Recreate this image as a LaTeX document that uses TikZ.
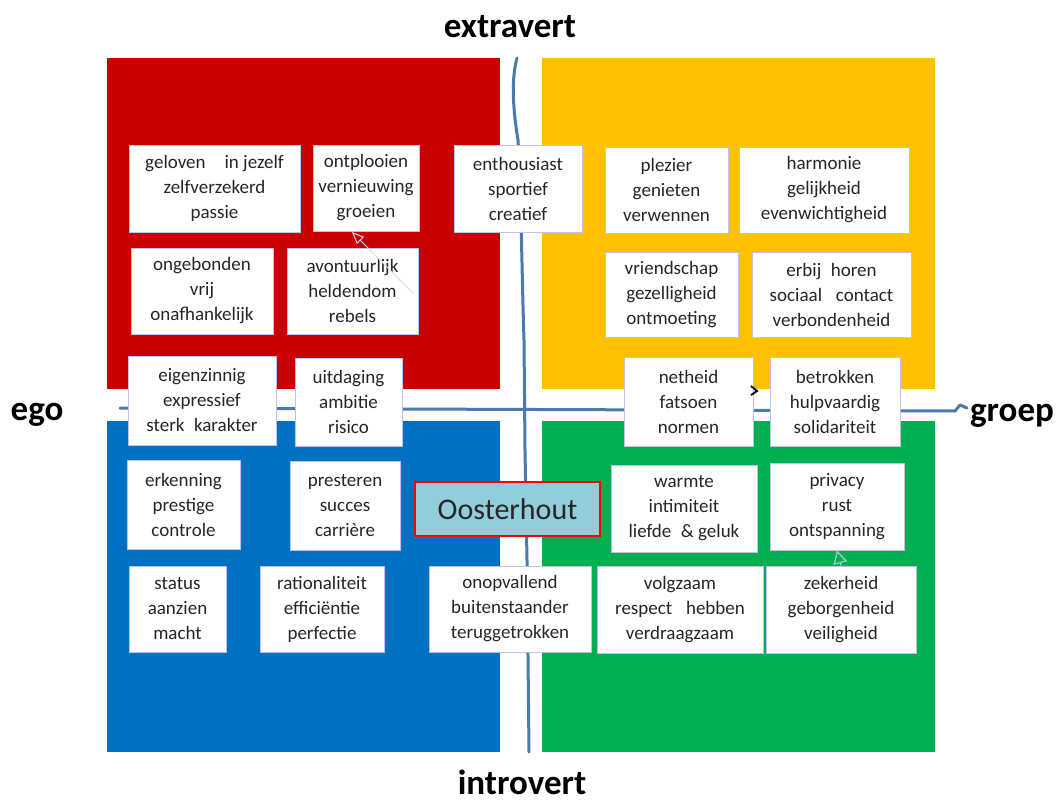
\documentclass[tikz,border=0pt]{standalone}
\usepackage{fontspec}
\setmainfont{Carlito}
\usetikzlibrary{arrows.meta}
\definecolor{qred}{HTML}{C80000}
\definecolor{qyellow}{HTML}{FFC000}
\definecolor{qblue}{HTML}{0070C0}
\definecolor{qgreen}{HTML}{00B050}
\definecolor{axisblue}{HTML}{4A7AAE}
\definecolor{boxline}{HTML}{C0C0F0}
\definecolor{txt}{HTML}{262626}
\definecolor{oostfill}{HTML}{92CDDC}
\definecolor{arrowlav}{HTML}{D8D8F8}
\definecolor{arrowlb}{HTML}{A8C8E0}
\tikzset{
  qb/.style={draw=boxline, line width=1pt, fill=white, inner sep=0pt,
    align=center, text=txt, font=\fontsize{19}{25}\selectfont},
  axisline/.style={draw=axisblue, line width=3pt, line cap=round, line join=round},
  titletext/.style={font=\fontsize{35}{40}\selectfont\bfseries, text=black, inner sep=0pt, anchor=base},
}
\newcommand\qbox[6]{\node[qb, minimum width={#4-#2}, minimum height={#5-#3}] (#1) at ({(#2+#4)/2},{(#3+#5)/2}) {#6};}
\begin{document}
\begin{tikzpicture}[x=1pt,y=-1pt]
\useasboundingbox (0,0) rectangle (1058,803);
% quadrants
\fill[qred] (107,58) rectangle (500,389);
\fill[qyellow] (542,58) rectangle (935,389);
\fill[qblue] (107,421) rectangle (500,752);
\fill[qgreen] (542,421) rectangle (935,752);
% axes
\draw[axisline] (517,58) .. controls (511,80) and (513,110) .. (518,140)
  .. controls (521,190) and (522,280) .. (524,340)
  -- (525,450) -- (527,560) -- (529,752);
\draw[axisline] (120,408) -- (955,411) -- (960,405) -- (967,408);
% titles
\node[titletext] (extra) at (510,37) {extravert};
\node[titletext] (intro) at (522,794) {introvert};
\node[titletext] (ego) at (37,420) {ego};
\node[titletext] (groep) at (1012,421) {groep};
% boxes
\qbox{geloven}{129}{145}{300}{232}{geloven\quad in jezelf\\zelfverzekerd\\passie}
\qbox{ontplooien}{313}{145}{419}{231}{ontplooien\\vernieuwing\\groeien}
\qbox{enthousiast}{454}{145}{582}{232}{enthousiast\\sportief\\creatief}
\qbox{plezier}{605}{147}{728}{233}{plezier\\genieten\\verwennen}
\qbox{harmonie}{739}{147}{909}{233}{harmonie\\gelijkheid\\evenwichtigheid}
\qbox{ongebonden}{131}{248}{273}{334}{ongebonden\\vrij\\onafhankelijk}
\qbox{avontuurlijk}{287}{248}{418}{334}{avontuurlijk\\heldendom\\rebels}
\qbox{vriendschap}{605}{252}{738}{337}{vriendschap\\gezelligheid\\ontmoeting}
\qbox{erbij}{752}{252}{911}{337}{erbij\enspace horen\\sociaal\enspace\ contact\\verbondenheid}
\qbox{eigenzinnig}{128}{356}{276}{445}{eigenzinnig\\expressief\\sterk\enspace karakter}
\qbox{uitdaging}{295}{358}{402}{446}{uitdaging\\ambitie\\risico}
\qbox{netheid}{624}{357}{753}{446}{netheid\\fatsoen\\normen}
\qbox{betrokken}{770}{357}{900}{446}{betrokken\\hulpvaardig\\solidariteit}
\qbox{erkenning}{127}{460}{240}{549}{erkenning\\prestige\\controle}
\qbox{presteren}{290}{461}{400}{550}{presteren\\succes\\carrière}
\qbox{warmte}{611}{465}{757}{552}{warmte\\intimiteit\\liefde\enspace\&\ geluk}
\qbox{privacy}{770}{463}{904}{550}{privacy\\rust\\ontspanning}
\qbox{status}{129}{566}{226}{652}{status\\aanzien\\macht}
\qbox{rationaliteit}{260}{566}{384}{652}{rationaliteit\\efficiëntie\\perfectie}
\qbox{onopvallend}{429}{566}{591}{652}{onopvallend\\buitenstaander\\teruggetrokken}
\qbox{volgzaam}{597}{566}{763}{653}{volgzaam\\respect\enspace\ hebben\\verdraagzaam}
\qbox{zekerheid}{766}{566}{916}{653}{zekerheid\\geborgenheid\\veiligheid}
% Oosterhout
\node[draw=red, line width=1.5pt, fill=oostfill, inner sep=0pt, minimum width=185, minimum height=54,
  font=\fontsize{30}{34}\selectfont, text=txt] (oost) at (507.5,509) {Oosterhout};
% small connectors
\coordinate (a1) at (413,293);
\coordinate (a1t) at (352,232);
\draw[draw=arrowlav, line width=1pt, -{Triangle[open, length=12pt, width=10pt]}] (a1) -- (a1t);
\draw[draw=arrowlb, line width=1.2pt, -{Triangle[open, length=13pt, width=14pt]}] (zekerheid.north) -- (privacy.south);
\coordinate (chev) at (757,391);
\draw[black, line width=1.8pt] ([shift={(-6,-5)}]chev) -- (chev) -- ([shift={(-6,4)}]chev);
\end{tikzpicture}
\end{document}
